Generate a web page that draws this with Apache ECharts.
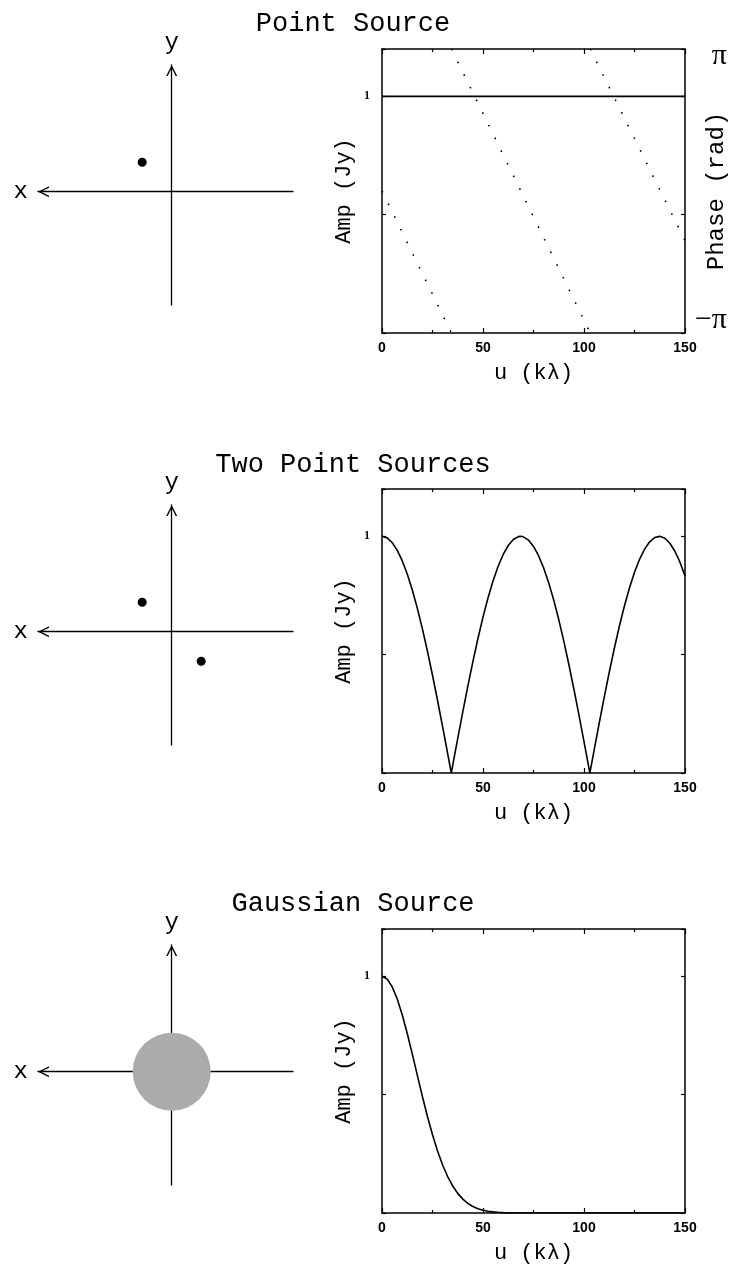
<!DOCTYPE html>
<html>
<head>
<meta charset="utf-8">
<script src="https://cdn.jsdelivr.net/npm/echarts@6/dist/echarts.min.js"></script>
<style>
  html, body { margin: 0; padding: 0; background: #fff; }
  #chart { width: 734px; height: 1269px; }
</style>
</head>
<body>
<div id="chart"></div>
<script>
// ---------------- data ----------------
const panelTitles = ['Point Source', 'Two Point Sources', 'Gaussian Source'];

// source positions on the sky plane (x grows to the left)
const pointSourcePos = [[1, 1]];
const twoSourcePos = [[1, 1], [-1, -1]];
const gaussianPos = [[0, 0]];

// u-axis tick labels (kλ)
const uTickValues = [0, 50, 100, 150];
const ampTickLabel = 1;

// point source: constant amplitude, linearly wrapping phase (rad)
const pointU = [0, 150];
const pointAmp = [1, 1];
const phaseSegU = [[0, 34.4], [34.4, 103.1], [103.1, 150]];
const phaseSegVal = [[0, -3.1416], [3.1416, -3.1416], [3.1416, -1.10]];

// two point sources: amplitude vs u
const twoU = [0, 2.5, 5, 7.5, 10, 12.5, 15, 17.5, 20, 22.5, 25, 27.5, 30, 32.5, 34.3,
  35, 37.5, 40, 42.5, 45, 47.5, 50, 52.5, 55, 57.5, 60, 62.5, 65, 67.5, 68.6,
  70, 72.5, 75, 77.5, 80, 82.5, 85, 87.5, 90, 92.5, 95, 97.5, 100, 102.5, 102.9,
  105, 107.5, 110, 112.5, 115, 117.5, 120, 122.5, 125, 127.5, 130, 132.5, 135, 137.5,
  140, 142.5, 145, 147.5, 150];
const twoAmp = [1.000, 0.9935, 0.9739, 0.9416, 0.8970, 0.8406, 0.7731, 0.6956, 0.6089, 0.5144, 0.4131, 0.3064, 0.1956, 0.0823, 0,
  0.0321, 0.1461, 0.2581, 0.3668, 0.4707, 0.5685, 0.6587, 0.7403, 0.8121, 0.8735, 0.9234, 0.9612, 0.9864, 0.9987, 1.000,
  0.9979, 0.9841, 0.9574, 0.9181, 0.8669, 0.8043, 0.7313, 0.6483, 0.5571, 0.4585, 0.3540, 0.2448, 0.1324, 0.0183, 0,
  0.0960, 0.2091, 0.3194, 0.4256, 0.5262, 0.6199, 0.7055, 0.7818, 0.8479, 0.9030, 0.9461, 0.9769, 0.9949, 0.9999,
  0.9918, 0.9707, 0.9369, 0.8908, 0.8330];

// gaussian source: amplitude vs u
const gaussU = [0, 2.5, 5, 7.5, 10, 12.5, 15, 17.5, 20, 22.5, 25, 27.5, 30, 32.5, 35, 37.5, 40,
  42.5, 45, 47.5, 50, 52.5, 55, 57.5, 60, 65, 70, 150];
const gaussAmp = [1.000, 0.9890, 0.9567, 0.9052, 0.8377, 0.7582, 0.6713, 0.5813, 0.4923, 0.4079, 0.3305,
  0.2620, 0.2030, 0.1540, 0.1142, 0.0828, 0.0587, 0.0408, 0.0277, 0.0184, 0.0119, 0.0076, 0.0047, 0.0029,
  0.0017, 0.0006, 0.0002, 0];

// ---------------- layout / style ----------------
const serifMono = 'Liberation Mono';
const plotTop = [49, 489, 929];
const skyTop = [65, 505, 945];
const titleTop = [10, 451, 890];
const titleSize = 27;
const arrowPath = 'path://M0,10 L5,0 L10,10 L8.6,10 L5,2.8 L1.4,10 Z';

const zip = (xs, ys) => xs.map((x, i) => [x, ys[i]]);

const grids = [], xAxes = [], yAxes = [], series = [], titles = [];

function plotFrameAxisBase(g) {
  return {
    gridIndex: g, type: 'value',
    axisLine: { show: true, onZero: false, lineStyle: { color: '#000', width: 1.5 } },
    splitLine: { show: false }, minorSplitLine: { show: false }
  };
}

function addPlot(p, withPhase) {
  const g = grids.length;
  grids.push({ left: 382, top: plotTop[p], width: 303, height: 284, outerBoundsMode: 'none', containLabel: false });

  const xBottom = xAxes.length;
  const xCommon = {
    min: 0, max: 150, interval: 50,
    axisTick: { show: true, inside: true, length: 5, lineStyle: { color: '#000', width: 1.2 } },
    minorTick: { show: true, splitNumber: 2, length: 3, lineStyle: { color: '#000', width: 1.2 } }
  };
  xAxes.push(Object.assign(plotFrameAxisBase(g), xCommon, {
    position: 'bottom',
    axisLabel: {
      show: true, margin: 8, color: '#000', fontFamily: 'Liberation Sans', fontWeight: 'bold', fontSize: 14,
      formatter: v => (uTickValues.indexOf(v) >= 0 ? String(v) : '')
    },
    name: 'u (kλ)', nameLocation: 'middle', nameGap: 29, nameMoveOverlap: false,
    nameTextStyle: { fontFamily: serifMono, fontSize: 22, color: '#000' }
  }));
  xAxes.push(Object.assign(plotFrameAxisBase(g), xCommon, {
    position: 'top', axisLabel: { show: false }
  }));

  const yCommon = {
    min: 0, max: 1.2, interval: 0.5,
    axisTick: { show: true, inside: true, length: 4, lineStyle: { color: '#000', width: 1.2 } }
  };
  const yAmp = yAxes.length;
  yAxes.push(Object.assign(plotFrameAxisBase(g), yCommon, {
    position: 'left',
    axisLabel: {
      show: true, margin: 12, color: '#000', fontFamily: 'Liberation Serif', fontWeight: 'bold', fontSize: 12,
      formatter: v => (Math.abs(v - ampTickLabel) < 1e-9 ? String(ampTickLabel) : '')
    },
    name: 'Amp (Jy)', nameLocation: 'middle', nameGap: 27, nameMoveOverlap: false,
    nameTextStyle: { fontFamily: serifMono, fontSize: 22, color: '#000' }
  }));
  yAxes.push(Object.assign(plotFrameAxisBase(g), yCommon, {
    position: 'right', axisLabel: { show: false }
  }));

  let yPhase = null;
  if (withPhase) {
    yPhase = yAxes.length;
    yAxes.push({
      gridIndex: g, type: 'value', position: 'right',
      min: -Math.PI, max: Math.PI, interval: Math.PI,
      axisLine: { show: false, onZero: false }, axisTick: { show: false },
      splitLine: { show: false },
      axisLabel: {
        show: true, margin: 42, align: 'right', color: '#000',
        fontFamily: 'Liberation Serif', fontSize: 30,
        formatter: v => (v > 1 ? '{hi|π}' : v < -1 ? '{lo|−π}' : ''),
        rich: {
          hi: { fontFamily: 'Liberation Serif', fontSize: 30, padding: [14, 0, 0, 0] },
          lo: { fontFamily: 'Liberation Serif', fontSize: 30, padding: [0, 0, 26, 0] }
        }
      },
      name: 'Phase (rad)', nameLocation: 'middle', nameGap: 20, nameMoveOverlap: false,
      nameTextStyle: { fontFamily: serifMono, fontSize: 24, color: '#000' }
    });
  }
  return { xIndex: xBottom, yAmp: yAmp, yPhase: yPhase };
}

function addSky(p, sources, size, color) {
  const g = grids.length;
  grids.push({ left: 38, top: skyTop[p], width: 255, height: 240, outerBoundsMode: 'none', containLabel: false });
  const xi = xAxes.length;
  xAxes.push({
    gridIndex: g, type: 'value', inverse: true, min: -4.112, max: 4.532,
    axisLine: {
      show: true, onZero: true,
      symbol: [arrowPath, 'none'], symbolSize: [13, 11], symbolOffset: [5.5, 0],
      lineStyle: { color: '#000', width: 1.3 }
    },
    axisTick: { show: false }, axisLabel: { show: false }, splitLine: { show: false },
    name: 'x', nameLocation: 'end', nameGap: 10, nameMoveOverlap: false,
    nameTextStyle: { fontFamily: serifMono, fontSize: 24, color: '#000' }
  });
  const yi = yAxes.length;
  yAxes.push({
    gridIndex: g, type: 'value', min: -3.841, max: 4.295,
    axisLine: {
      show: true, onZero: true,
      symbol: ['none', arrowPath], symbolSize: [13, 11], symbolOffset: [0, -5.5],
      lineStyle: { color: '#000', width: 1.3 }
    },
    axisTick: { show: false }, axisLabel: { show: false }, splitLine: { show: false },
    name: 'y', nameLocation: 'end', nameGap: 10, nameMoveOverlap: false,
    nameTextStyle: { fontFamily: serifMono, fontSize: 24, color: '#000' }
  });
  series.push({
    type: 'scatter', xAxisIndex: xi, yAxisIndex: yi, data: sources, z: 10,
    symbol: 'circle', symbolSize: size, itemStyle: { color: color, opacity: 1 }, silent: true
  });
}

function curve(ax, data, extraStyle) {
  return {
    type: 'line', xAxisIndex: ax.xIndex, yAxisIndex: ax.yAmp, data: data,
    showSymbol: false, smooth: false, silent: true,
    lineStyle: Object.assign({ color: '#000', width: 1.6 }, extraStyle || {})
  };
}

// panel 1: point source
const a1 = addPlot(0, true);
series.push(curve(a1, zip(pointU, pointAmp), { width: 1.8 }));
phaseSegU.forEach((us, i) => {
  series.push({
    type: 'line', xAxisIndex: a1.xIndex, yAxisIndex: a1.yPhase,
    data: zip(us, phaseSegVal[i]), showSymbol: false, silent: true,
    lineStyle: { color: '#000', width: 1.6, type: [1.6, 12.5] }
  });
});
// panel 2: two point sources
const a2 = addPlot(1, false);
series.push(curve(a2, zip(twoU, twoAmp)));
// panel 3: gaussian
const a3 = addPlot(2, false);
series.push(curve(a3, zip(gaussU, gaussAmp)));

addSky(0, pointSourcePos, 9, '#000');
addSky(1, twoSourcePos, 9, '#000');
addSky(2, gaussianPos, 78, '#ababab');

panelTitles.forEach((t, i) => {
  const w = t.length * 0.6 * titleSize;
  titles.push({
    text: t, left: 353 - w / 2, top: titleTop[i], padding: 0,
    textStyle: { fontFamily: serifMono, fontSize: titleSize, fontWeight: 'normal', color: '#000' }
  });
});

const chart = echarts.init(document.getElementById('chart'), null, { renderer: 'canvas' });
chart.setOption({
  backgroundColor: '#fff',
  animation: false,
  title: titles,
  grid: grids,
  xAxis: xAxes,
  yAxis: yAxes,
  series: series
});
</script>
</body>
</html>
